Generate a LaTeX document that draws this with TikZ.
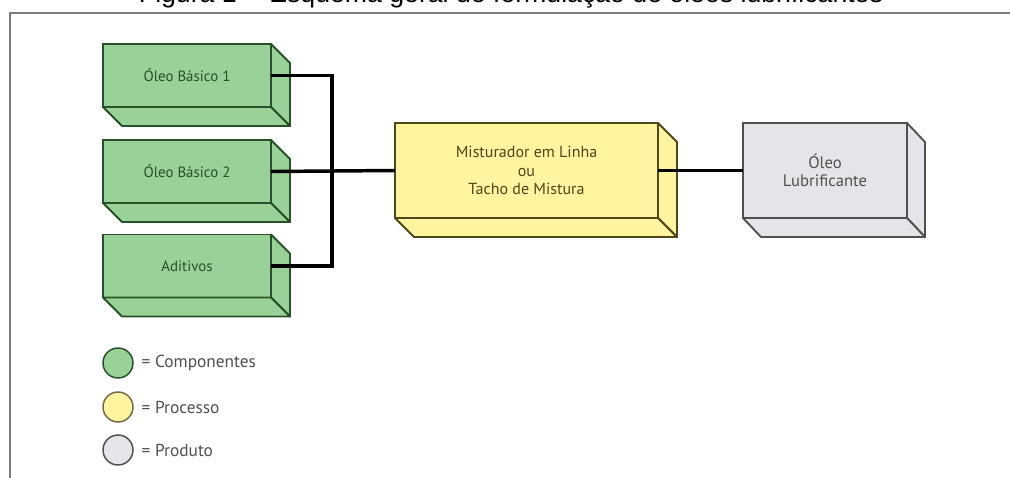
\documentclass[tikz,border=0pt]{standalone}
\usepackage{fontspec}
\setmainfont{PT Sans}
\newfontfamily\titlefont{Liberation Sans}
\definecolor{verde}{RGB}{152,210,152}
\definecolor{verdeesc}{RGB}{40,80,40}
\definecolor{amarelo}{RGB}{255,244,160}
\definecolor{amareloesc}{RGB}{80,70,25}
\definecolor{cinza}{RGB}{228,229,232}
\definecolor{cinzaesc}{RGB}{80,80,80}
\definecolor{moldura}{RGB}{125,125,125}

\begin{document}
\begin{tikzpicture}[x=0.75pt,y=0.75pt,yscale=-1,xscale=1,
  face/.style={draw,line width=1.4pt,outer sep=0pt,inner sep=2pt,align=center,font=\fontsize{12}{14}\selectfont},
  comp/.style={face,fill=verde,draw=verdeesc,text=verdeesc,minimum width=126pt,minimum height=47.25pt,font=\fontsize{11.2}{13.5}\selectfont},
  proc/.style={face,fill=amarelo,draw=amareloesc,text=amareloesc,minimum width=197.25pt,minimum height=71.25pt},
  prod/.style={face,fill=cinza,draw=cinzaesc,text=cinzaesc,minimum width=123pt,minimum height=71.25pt,font=\fontsize{12.5}{14}\selectfont},
  lado/.style={line width=1.4pt,line join=round},
  liga/.style={line width=2.6pt,black},
  leg/.style={circle,line width=1.1pt,minimum size=22.5pt,inner sep=0pt},
  legtxt/.style={anchor=west,text=cinzaesc,font=\fontsize{13}{15}\selectfont}]
\useasboundingbox (0,0) rectangle (1010,478);

% Title (cut by the top of the picture)
\node (titulo) [anchor=base,font=\titlefont\fontsize{20}{24}\selectfont] at (511,2.5) {Figura 1 -- Esquema geral de formulação de óleos lubrificantes};

% Frame
\draw [moldura,line width=1.6pt] (10,478) -- (10,13) -- (1010,13);

% Components
\node (ob1) [comp] at (187,75.5) {Óleo Básico 1};
\node (ob2) [comp] at (187,171.5) {Óleo Básico 2};
\node (adt) [comp] at (187,266) {Aditivos};
% Process and product
\node (mix) [proc] at (526.5,170.5) {Misturador em Linha\\ou\\Tacho de Mistura};
\node (prd) [prod] at (825,170.5) {Óleo\\Lubrificante};

% Extruded faces
\foreach \n in {ob1,ob2,adt}{
  \draw [lado,fill=verde,draw=verdeesc] (\n.north east) -- ([shift={(19,19)}]\n.north east) -- ([shift={(19,19)}]\n.south east) -- (\n.south east) -- cycle;
  \draw [lado,fill=verde,draw=verdeesc] (\n.south west) -- ([shift={(19,19)}]\n.south west) -- ([shift={(19,19)}]\n.south east) -- (\n.south east) -- cycle;
}
\draw [lado,fill=amarelo,draw=amareloesc] (mix.north east) -- ([shift={(19,19)}]mix.north east) -- ([shift={(19,19)}]mix.south east) -- (mix.south east) -- cycle;
\draw [lado,fill=amarelo,draw=amareloesc] (mix.south west) -- ([shift={(19,19)}]mix.south west) -- ([shift={(19,19)}]mix.south east) -- (mix.south east) -- cycle;
\draw [lado,fill=cinza,draw=cinzaesc] (prd.north east) -- ([shift={(18,19)}]prd.north east) -- ([shift={(18,19)}]prd.south east) -- (prd.south east) -- cycle;
\draw [lado,fill=cinza,draw=cinzaesc] (prd.south west) -- ([shift={(18,19)}]prd.south west) -- ([shift={(18,19)}]prd.south east) -- (prd.south east) -- cycle;

% Connectors
\coordinate (jn) at (332,170.5);
\draw [liga] (ob1.east) -| (jn);
\draw [liga] (adt.east) -| (jn);
\draw [liga] (ob2.east) -- (mix.west);
\draw [liga] (mix.east) -- (prd.west);

% Legend
\node (lg1) [leg,fill=verde,draw=verdeesc] at (118,363) {};
\node (lg2) [leg,fill=amarelo,draw=amareloesc!80] at (118,407) {};
\node (lg3) [leg,fill=cinza,draw=cinzaesc] at (118,450) {};
\node (lt1) [legtxt] at (137,363) {= Componentes};
\node (lt2) [legtxt] at (137,407) {= Processo};
\node (lt3) [legtxt] at (137,450) {= Produto};

\end{tikzpicture}
\end{document}
